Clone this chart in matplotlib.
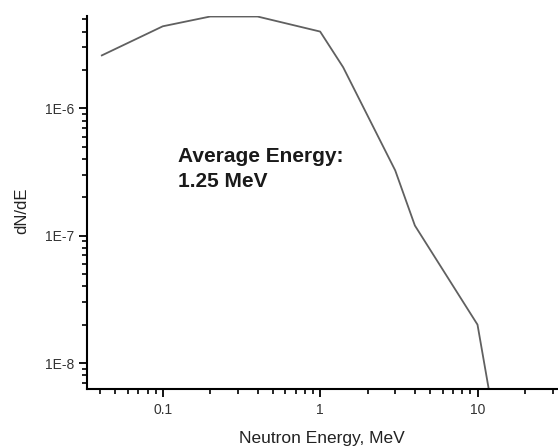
import matplotlib
matplotlib.use('Agg')
import matplotlib.pyplot as plt
from matplotlib import rcParams, ticker

rcParams['font.family'] = ['Liberation Sans', 'DejaVu Sans']

# spectrum
energy = [0.041, 0.1, 0.2, 0.4, 1.0, 1.4, 3.0, 4.0, 10.0, 12.0]
dnde = [2.6e-6, 4.4e-6, 5.25e-6, 5.25e-6, 4.0e-6, 2.1e-6, 3.25e-7, 1.2e-7, 2.0e-8, 5.5e-9]

x_ticks = [0.1, 1, 10]
x_labels = ['0.1', '1', '10']
y_ticks = [1e-8, 1e-7, 1e-6]
y_labels = ['1E-8', '1E-7', '1E-6']

fig = plt.figure(figsize=(5.58, 4.48), dpi=100)
ax = fig.add_axes([87 / 558, 59 / 448, 470 / 558, 373 / 448])

ax.plot(energy, dnde, color='#606060', lw=1.3)

ax.set_xscale('log')
ax.set_yscale('log')
ax.set_xlim(0.033, 32)
ax.set_ylim(6.25e-9, 5.3e-6)

ax.xaxis.set_major_locator(ticker.FixedLocator(x_ticks))
ax.xaxis.set_major_formatter(ticker.FixedFormatter(x_labels))
ax.xaxis.set_minor_locator(ticker.LogLocator(base=10, subs=range(2, 10)))
ax.xaxis.set_minor_formatter(ticker.NullFormatter())
ax.yaxis.set_major_locator(ticker.FixedLocator(y_ticks))
ax.yaxis.set_major_formatter(ticker.FixedFormatter(y_labels))
ax.yaxis.set_minor_locator(ticker.LogLocator(base=10, subs=range(2, 10)))
ax.yaxis.set_minor_formatter(ticker.NullFormatter())

for side in ['top', 'right']:
    ax.spines[side].set_visible(False)
for side in ['left', 'bottom']:
    ax.spines[side].set_linewidth(1.5)

ax.tick_params(which='major', direction='out', length=6, width=1.3,
               labelsize=10, labelcolor='#333333')
ax.tick_params(axis='x', which='major', pad=4)
ax.tick_params(axis='y', which='major', pad=3)
ax.tick_params(which='minor', direction='out', length=3.5, width=1.2)

ax.set_xlabel('Neutron Energy, MeV', fontsize=12.5, color='#222222', labelpad=10)
ax.set_ylabel('dN/dE', fontsize=12, color='#222222')
ax.yaxis.set_label_coords(-0.1234, 0.477)

ax.text(0.1936, 0.5416, 'Average Energy:\n1.25 MeV', transform=ax.transAxes,
        fontsize=15, fontweight='bold', color='#1a1a1a',
        ha='left', va='baseline', linespacing=1.41)

plt.savefig('out.png', dpi=100)
